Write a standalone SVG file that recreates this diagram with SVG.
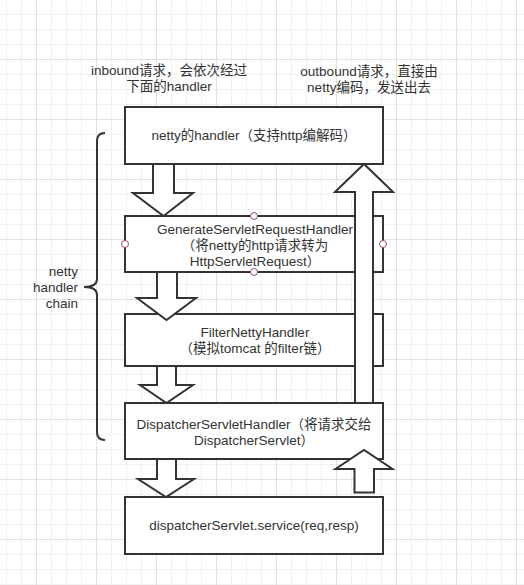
<svg xmlns="http://www.w3.org/2000/svg" width="524" height="585" viewBox="0 0 524 585">
<defs>
<pattern id="grid" patternUnits="userSpaceOnUse" x="36" y="59" width="60" height="60">
<rect x="0" y="0" width="60" height="60" fill="#ffffff"/>
<rect x="15" y="0" width="1" height="60" fill="#f1f1f1"/>
<rect x="30" y="0" width="1" height="60" fill="#f1f1f1"/>
<rect x="45" y="0" width="1" height="60" fill="#f1f1f1"/>
<rect x="0" y="15" width="60" height="1" fill="#f1f1f1"/>
<rect x="0" y="30" width="60" height="1" fill="#f1f1f1"/>
<rect x="0" y="45" width="60" height="1" fill="#f1f1f1"/>
<rect x="0" y="0" width="1" height="60" fill="#e1e1e1"/>
<rect x="0" y="0" width="60" height="1" fill="#e1e1e1"/>
</pattern>
</defs>
<style>
.box{fill:#ffffff;stroke:#333333;stroke-width:2}
.arr{fill:#ffffff;stroke:#333333;stroke-width:2;stroke-linejoin:miter}
.t{font-family:"Liberation Sans","Noto Sans CJK SC",sans-serif;font-size:13.5px;fill:#333333;text-anchor:middle}
.tl{font-family:"Liberation Sans","Noto Sans CJK SC",sans-serif;font-size:13.5px;fill:#333333;text-anchor:end}
.pt{fill:#ffffff;stroke:#9b4f60;stroke-width:1}
.brace{fill:none;stroke:#333333;stroke-width:2}
</style>
<rect x="0" y="0" width="524" height="585" fill="url(#grid)"/>

<g id="label-inbound">
<text class="t" x="169" y="75">inbound请求，会依次经过</text>
<text class="t" x="169" y="91">下面的handler</text>
</g>
<g id="label-outbound">
<text class="t" x="369" y="76">outbound请求，直接由</text>
<text class="t" x="369" y="92">netty编码，发送出去</text>
</g>

<g id="chain-brace">
<path class="brace" d="M105,133 Q97,133 97,141 L97,279 Q97,287 84,287 Q97,287 97,295 L97,432 Q97,440 105,440"/>
<text class="tl" x="78" y="276">netty</text>
<text class="tl" x="78" y="292">handler</text>
<text class="tl" x="78" y="308">chain</text>
</g>

<g id="node-netty-handler">
<rect class="box" x="125" y="107" width="258" height="57"/>
<text class="t" x="254" y="140">netty的handler（支持http编解码）</text>
</g>
<g id="node-generate">
<rect class="box" x="125" y="216" width="258" height="56"/>
<text class="t" x="255" y="234">GenerateServletRequestHandler</text>
<text class="t" x="255" y="250">（将netty的http请求转为</text>
<text class="t" x="255" y="266">HttpServletRequest）</text>
<circle class="pt" cx="254" cy="216" r="3.5"/>
<circle class="pt" cx="254" cy="272" r="3.5"/>
<circle class="pt" cx="125" cy="244" r="3.5"/>
<circle class="pt" cx="383" cy="244" r="3.5"/>
</g>
<g id="node-filter">
<rect class="box" x="125" y="314" width="258" height="52"/>
<text class="t" x="255" y="337">FilterNettyHandler</text>
<text class="t" x="255" y="353">（模拟tomcat 的filter链）</text>
</g>
<g id="node-dispatcher-handler">
<rect class="box" x="125" y="403" width="258" height="56"/>
<text class="t" x="254" y="429">DispatcherServletHandler（将请求交给</text>
<text class="t" x="254" y="445">DispatcherServlet）</text>
</g>
<g id="node-service">
<rect class="box" x="125" y="497" width="258" height="57"/>
<text class="t" x="254" y="530">dispatcherServlet.service(req,resp)</text>
</g>

<g id="connectors">
<path class="arr" d="M153,164 L174,164 L174,193 L193,193 L163.5,216 L133,193 L153,193 Z"/>
<path class="arr" d="M157,272 L177,272 L177,298 L196,298 L166.5,320 L137,298 L157,298 Z"/>
<path class="arr" d="M157,366 L176,366 L176,385 L193,385 L166.5,403 L140,385 L157,385 Z"/>
<path class="arr" d="M157,459 L176,459 L176,479 L194,479 L166,497 L138,479 L157,479 Z"/>
<path class="arr" d="M355,403 L373,403 L373,192 L393,192 L364,164 L335,192 L355,192 Z"/>
<path class="arr" d="M354.5,492.5 L374,492.5 L374,469 L392.5,469 L364,450 L335.5,469 L354.5,469 Z"/>
</g>
</svg>
